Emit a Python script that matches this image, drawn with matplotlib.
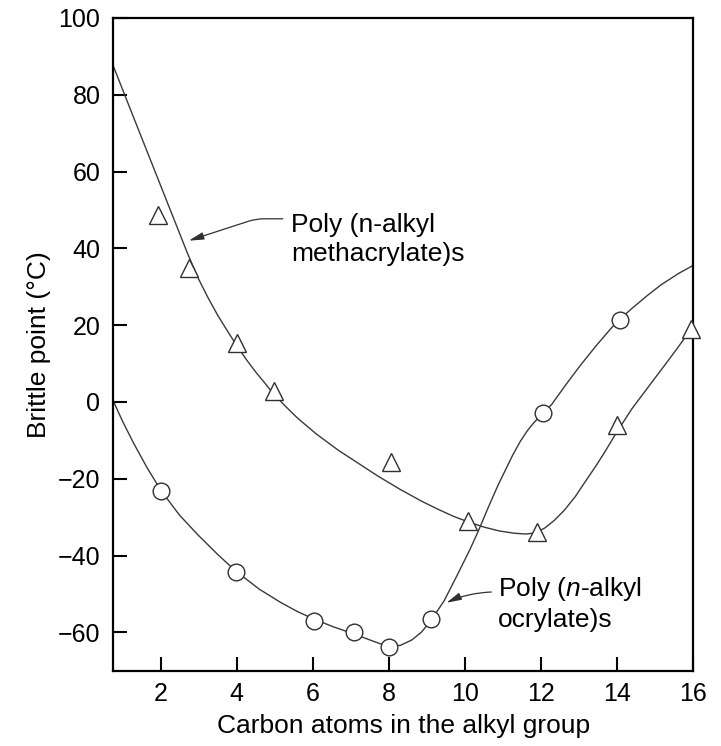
import matplotlib
matplotlib.use("Agg")
import matplotlib.pyplot as plt

plt.rcParams['font.family'] = ['Liberation Sans', 'DejaVu Sans']
plt.rcParams['mathtext.fontset'] = 'custom'
plt.rcParams['mathtext.rm'] = 'Liberation Sans'
plt.rcParams['mathtext.it'] = 'Liberation Sans:italic'

# ---- data ----
# Poly(n-alkyl methacrylate)s: measured points (triangles)
meth_x = [1.93, 2.76, 4.0, 4.97, 8.05, 10.08, 11.9, 13.99, 15.93]
meth_y = [48.8, 35.0, 15.3, 2.8, -15.6, -31.0, -33.8, -6.0, 18.9]
# fitted curve through the methacrylate series
meth_curve_x = [0.77, 1.2, 1.7, 2.2, 2.7, 2.85, 3.0, 3.25, 3.5, 3.75, 3.98, 4.25, 4.5,
                4.75, 4.95, 5.3, 5.61, 6.1, 6.66, 7.2, 7.71, 8.3, 8.85, 9.3, 9.7,
                10.1, 10.5, 10.9, 11.3, 11.6, 11.85, 12.1, 12.35, 12.61, 12.9,
                13.19, 13.45, 13.68, 13.99, 14.39, 14.8, 15.15, 15.55, 16.0]
meth_curve_y = [87.2, 76.4, 63.9, 51.4, 38.9, 35.4, 32.0, 27.1, 22.6, 18.6, 15.0, 11.1, 7.8,
                4.8, 2.3, -1.3, -4.3, -8.4, -12.5, -16.0, -19.3, -22.8, -25.8, -28.0, -29.8,
                -31.3, -32.6, -33.6, -34.2, -34.4, -34.1, -32.8, -30.8, -28.2, -24.6,
                -20.3, -16.5, -12.9, -7.8, -1.7, 3.7, 8.3, 13.6, 19.8]

# Poly(n-alkyl acrylate)s: measured points (circles)
acr_x = [2.02, 3.97, 6.04, 7.08, 8.0, 9.1, 12.06, 14.06]
acr_y = [-23.2, -44.3, -57.0, -60.0, -63.7, -56.6, -2.8, 21.4]
# fitted curve through the acrylate series
acr_curve_x = [0.77, 1.0, 1.29, 1.65, 2.02, 2.5, 3.0, 3.5, 3.97, 4.6, 5.17, 5.6, 6.04,
               6.55, 7.08, 7.45, 7.75, 8.0, 8.3, 8.6, 8.85, 9.1, 9.45, 9.8, 10.13,
               10.35, 10.6, 10.88, 11.25, 11.45, 11.63, 11.8, 11.95, 12.1, 12.28,
               12.65, 13.02, 13.45, 13.84, 14.06, 14.39, 14.8, 15.15, 15.6, 16.0]
acr_curve_y = [0.0, -5.0, -10.7, -17.2, -23.2, -29.5, -34.8, -39.7, -44.0, -48.8, -52.3,
               -54.6, -56.6, -58.6, -60.4, -61.8, -62.9, -63.6, -63.4, -62.0, -60.0, -57.0,
               -51.8, -45.0, -38.4, -33.6, -27.7, -21.4, -13.9, -10.3, -7.6, -5.5, -3.9,
               -2.5, -0.6, 4.5, 9.4, 14.7, 19.2, 21.5, 24.4, 27.8, 30.5, 33.4, 35.6]

x_ticks = [2, 4, 6, 8, 10, 12, 14, 16]
y_ticks = [-60, -40, -20, 0, 20, 40, 60, 80, 100]

label_meth = "Poly (n-alkyl\nmethacrylate)s"
label_acr = "Poly ($\\mathit{n}$-alkyl\nocrylate)s"

# ---- figure ----
fig = plt.figure(figsize=(7.21, 7.46), dpi=100)
ax = fig.add_axes([0.1567, 0.1009, 0.805, 0.875])

line_col = '#3a3a3a'
ax.plot(meth_curve_x, meth_curve_y, color=line_col, lw=1.0, zorder=2)
ax.plot(acr_curve_x, acr_curve_y, color=line_col, lw=1.0, zorder=2)
ax.plot(meth_x, meth_y, ls='none', marker='^', ms=12.5, mfc='white',
        mec='#303030', mew=1.0, zorder=3, clip_on=False)
ax.plot(acr_x, acr_y, ls='none', marker='o', ms=12, mfc='white',
        mec='#303030', mew=1.0, zorder=3, clip_on=False)

ax.set_xlim(0.75, 16)
ax.set_ylim(-70, 100)
ax.set_xticks(x_ticks)
ax.set_yticks(y_ticks)
ax.tick_params(direction='in', length=10, width=1.5, labelsize=18, pad=8,
               colors='black')
ax.tick_params(axis='y', pad=9)
for s in ax.spines.values():
    s.set_linewidth(1.6)
    s.set_color('black')

ax.set_xlabel('Carbon atoms in the alkyl group', fontsize=19, labelpad=6)
ax.set_ylabel('Brittle point (°C)', fontsize=19, labelpad=5)

ax.text(5.42, 49.3, label_meth, fontsize=19, va='top', ha='left', linespacing=1.3)
ax.text(10.86, -45.0, label_acr, fontsize=19, va='top', ha='left', linespacing=1.3)

ap = dict(arrowstyle='-|>,head_length=0.9,head_width=0.22', color='#303030',
          lw=0.9, shrinkA=0, shrinkB=0, mutation_scale=10)
ax.annotate('', xy=(2.74, 42.0), xytext=(5.21, 47.7),
            arrowprops=dict(ap, connectionstyle='angle,angleA=180,angleB=18,rad=8'))
ax.annotate('', xy=(9.51, -52.3), xytext=(10.69, -49.5),
            arrowprops=dict(ap, connectionstyle='arc3,rad=0.1'))

fig.savefig('out.png', dpi=100)
